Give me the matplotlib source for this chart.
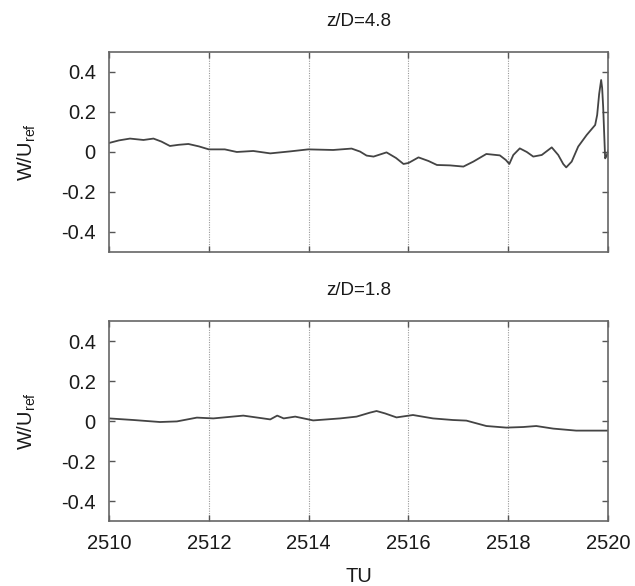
import matplotlib
matplotlib.use("Agg")
import matplotlib.pyplot as plt

plt.rcParams["font.family"] = ["Liberation Sans", "DejaVu Sans"]

# z/D = 4.8
tu_top = [2510.0, 2510.2, 2510.42, 2510.69, 2510.89, 2511.05, 2511.22, 2511.4, 2511.59,
          2511.8, 2512.0, 2512.32, 2512.56, 2512.89, 2513.23, 2513.63, 2513.99, 2514.49,
          2514.86, 2515.03, 2515.16, 2515.30, 2515.56, 2515.75, 2515.9, 2516.0, 2516.2,
          2516.4, 2516.57, 2516.83, 2517.1, 2517.3, 2517.56, 2517.83, 2517.95, 2518.02,
          2518.1, 2518.23, 2518.37, 2518.5, 2518.67, 2518.87, 2519.0, 2519.1, 2519.16,
          2519.27, 2519.4, 2519.57, 2519.74, 2519.78, 2519.82, 2519.86, 2519.88, 2519.90,
          2519.94, 2519.97, 2520.0]
w_top = [0.045, 0.058, 0.067, 0.060, 0.067, 0.052, 0.030, 0.036, 0.040,
         0.028, 0.013, 0.013, 0.000, 0.005, -0.007, 0.003, 0.013, 0.010,
         0.017, 0.002, -0.018, -0.023, -0.002, -0.030, -0.060, -0.055, -0.027,
         -0.045, -0.065, -0.067, -0.073, -0.048, -0.010, -0.017, -0.040, -0.060,
         -0.015, 0.018, 0.000, -0.023, -0.015, 0.023, -0.015, -0.060, -0.077,
         -0.048, 0.027, 0.085, 0.135, 0.185, 0.290, 0.360, 0.320, 0.227,
         -0.032, -0.020, 0.007]

# z/D = 1.8
tu_bot = [2510.0, 2510.49, 2511.02, 2511.36, 2511.76, 2512.09, 2512.69, 2513.09, 2513.23,
          2513.37, 2513.5, 2513.73, 2514.09, 2514.63, 2514.96, 2515.23, 2515.36, 2515.53,
          2515.76, 2516.09, 2516.49, 2516.89, 2517.16, 2517.56, 2517.96, 2518.3, 2518.56,
          2518.9, 2519.36, 2520.0]
w_bot = [0.013, 0.005, -0.005, -0.002, 0.017, 0.013, 0.027, 0.013, 0.008,
         0.027, 0.013, 0.022, 0.003, 0.013, 0.022, 0.042, 0.050, 0.038,
         0.018, 0.030, 0.013, 0.005, 0.002, -0.025, -0.033, -0.030, -0.025,
         -0.038, -0.048, -0.048]

titles = ["z/D=4.8", "z/D=1.8"]
xticks = [2510, 2512, 2514, 2516, 2518, 2520]
yticks = [-0.4, -0.2, 0, 0.2, 0.4]
ytick_labels = ["-0.4", "-0.2", "0", "0.2", "0.4"]

fig = plt.figure(figsize=(6.35, 5.86), dpi=100)
ax_top = fig.add_axes([0.1717, 0.570, 0.786, 0.3413])
ax_bot = fig.add_axes([0.1717, 0.1109, 0.786, 0.3413])

for ax, tu, w, title in zip([ax_top, ax_bot], [tu_top, tu_bot], [w_top, w_bot], titles):
    ax.plot(tu, w, color="#444444", lw=1.3)
    ax.set_xlim(2510, 2520)
    ax.set_ylim(-0.5, 0.5)
    ax.set_xticks(xticks)
    ax.set_yticks(yticks)
    ax.set_yticklabels(ytick_labels)
    for x in xticks[1:-1]:
        ax.axvline(x, color="#999999", lw=0.8, ls=(0, (1, 1.2)), zorder=0)
    ax.tick_params(direction="in", top=True, right=True, length=4, width=1,
                   color="#555555", labelsize=14.5, labelcolor="#1a1a1a", pad=9.5)
    for sp in ax.spines.values():
        sp.set_color("#666666")
        sp.set_linewidth(1.2)
    ax.set_title(title, fontsize=13.5, color="#1a1a1a", pad=19)
    ax.set_ylabel(r"W/U$_{\mathregular{ref}}$", fontsize=14.5, color="#1a1a1a", labelpad=17)

ax_top.tick_params(labelbottom=False)
ax_bot.set_xlabel("TU", fontsize=14.5, color="#1a1a1a", labelpad=10)

fig.savefig("out.png", dpi=100)
